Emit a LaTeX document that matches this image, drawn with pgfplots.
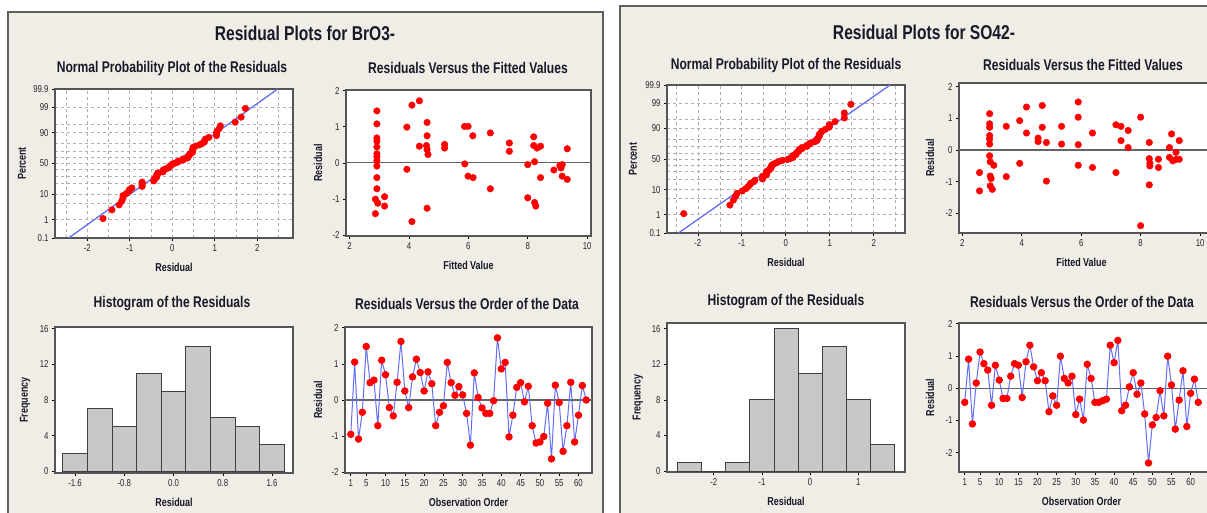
\documentclass[border=0pt]{standalone}
\usepackage{pgfplots}
\pgfplotsset{compat=1.18}
\usepackage{fontspec}
\setmainfont{Liberation Sans}[FakeStretch=0.78]
\definecolor{panelbg}{RGB}{240,236,230}
\definecolor{framegray}{RGB}{85,85,85}
\definecolor{panelborder}{RGB}{95,95,95}
\definecolor{bluel}{RGB}{100,110,245}
\definecolor{barfill}{RGB}{200,200,200}
\definecolor{zeroline}{RGB}{100,100,100}
\definecolor{gridc}{RGB}{175,175,175}
\definecolor{titc}{RGB}{25,25,40}
\newcommand\ticksz{\fontsize{10}{10}\selectfont}
\newcommand\labsz{\fontsize{11.5}{12}\selectfont\bfseries}
\newcommand\subsz{\fontsize{15.5}{17}\selectfont\bfseries}
\newcommand\titsz{\fontsize{20}{22}\selectfont\bfseries}
\pgfplotsset{
  mt/.style={
    scale only axis,
    axis background/.style={fill=white},
    axis line style={draw=framegray, line width=1.4pt},
    every tick/.style={draw=black, line width=0.6pt},
    major tick length=3pt,
    minor tick length=0pt,
    tick align=outside,
    xtick pos=bottom, ytick pos=left,
    ticklabel style={font=\ticksz, text=black!85},
    /pgf/number format/assume math mode=true,
    every axis x label/.style={at={(axis description cs:0.5,0)}, anchor=center, yshift=-29pt, font=\labsz, text=titc},
    every axis y label/.style={at={(axis description cs:-0.12,0.5)}, anchor=center, rotate=90, font=\labsz, text=titc},
  },
  ylab/.style={every axis y label/.append style={at={(axis description cs:#1,0.5)}}},
  dots/.style={only marks, mark=*, mark size=3.3pt, color=red, mark options={draw=red, fill=red}},
}
\begin{document}
\begin{tikzpicture}
\useasboundingbox (0,0) rectangle (1207pt,-513pt);
\fill[white] (0,0) rectangle (1207pt,-513pt);
\clip (0,0) rectangle (1207pt,-513pt);
\filldraw[fill=panelbg, draw=panelborder, line width=1.5pt] (8pt,-12pt) rectangle (603pt,-530pt);
\filldraw[fill=panelbg, draw=panelborder, line width=1.5pt] (620pt,-6pt) rectangle (1230pt,-530pt);

% titles
\node[font=\titsz, text=titc] at (305pt,-33pt) {Residual Plots for BrO3-};
\node[font=\titsz, text=titc] at (924pt,-32pt) {Residual Plots for SO42-};
\node[font=\subsz, text=titc] at (172pt,-68pt) {Normal Probability Plot of the Residuals};
\node[font=\subsz, text=titc] at (468pt,-68pt) {Residuals Versus the Fitted Values};
\node[font=\subsz, text=titc] at (172pt,-304pt) {Histogram of the Residuals};
\node[font=\subsz, text=titc] at (467pt,-304pt) {Residuals Versus the Order of the Data};
\node[font=\subsz, text=titc] at (786pt,-65pt) {Normal Probability Plot of the Residuals};
\node[font=\subsz, text=titc] at (1083pt,-65pt) {Residuals Versus the Fitted Values};
\node[font=\subsz, text=titc] at (786pt,-302pt) {Histogram of the Residuals};
\node[font=\subsz, text=titc] at (1082pt,-302pt) {Residuals Versus the Order of the Data};

%================ LEFT: NPP
\begin{axis}[mt, at={(55pt,-89pt)}, anchor=north west, width=238pt, height=149pt,
  xmin=-2.76, xmax=2.84, ymin=-3.09, ymax=3.09,
  xtick={-2,-1,0,1,2}, minor xtick={-2.5,-1.5,-0.5,0.5,1.5,2.5},
  ytick={-3.090,-2.326,-1.282,0,1.282,2.326,3.090}, yticklabels={0.1,1,10,50,90,99,99.9},
  minor ytick={-1.645,-0.8416,-0.5244,-0.2533,0.2533,0.5244,0.8416,1.645},
  grid=both, grid style={draw=gridc, dashed, line width=0.6pt},
  xlabel={Residual}, ylabel={Percent}, ylab=-0.139]
\addplot[color=bluel, line width=1.3pt] coordinates {(-2.44,-3.09) (2.48,3.09)};
\addplot[dots] coordinates {(-1.63,-2.283) (-1.42,-1.923) (-1.25,-1.714) (-1.19,-1.561) (-1.16,-1.437) (-1.16,-1.333) (-1.08,-1.241) (-1.02,-1.158) (-1.01,-1.083) (-0.95,-1.013) (-0.71,-0.948) (-0.71,-0.887) (-0.71,-0.829) (-0.71,-0.774) (-0.44,-0.721) (-0.42,-0.669) (-0.42,-0.620) (-0.37,-0.572) (-0.37,-0.525) (-0.37,-0.480) (-0.34,-0.435) (-0.34,-0.391) (-0.22,-0.348) (-0.21,-0.306) (-0.21,-0.264) (-0.16,-0.223) (-0.09,-0.182) (-0.07,-0.141) (-0.05,-0.101) (-0.02,-0.060) (0.00,-0.020) (0.07,0.020) (0.13,0.060) (0.14,0.101) (0.25,0.141) (0.25,0.182) (0.35,0.223) (0.37,0.264) (0.38,0.306) (0.40,0.348) (0.41,0.391) (0.45,0.435) (0.48,0.480) (0.48,0.525) (0.48,0.572) (0.49,0.620) (0.49,0.669) (0.55,0.721) (0.64,0.774) (0.70,0.829) (0.75,0.887) (0.76,0.948) (0.78,1.013) (0.86,1.083) (1.04,1.158) (1.04,1.241) (1.05,1.333) (1.10,1.437) (1.13,1.561) (1.48,1.714) (1.62,1.923) (1.72,2.283)};
\end{axis}

%================ LEFT: fitted
\begin{axis}[mt, at={(346pt,-90pt)}, anchor=north west, width=245pt, height=146pt,
  xmin=1.88, xmax=10.13, ymin=-2.03, ymax=2.02,
  xtick={2,4,6,8,10}, ytick={-2,-1,0,1,2},
  xlabel={Fitted Value}, ylabel={Residual}, ylab=-0.114]
\addplot[color=zeroline, line width=1.3pt] coordinates {(1.88,0) (10.13,0)};
\addplot[dots] coordinates {(2.92,1.44) (2.92,1.08) (2.92,0.69) (2.92,0.60) (2.92,0.44) (2.92,0.25) (2.92,0.17) (2.92,0.06) (2.92,-0.09) (2.92,-0.41) (2.92,-0.72) (2.87,-1.01) (2.95,-1.12) (2.87,-1.41) (3.18,-0.94) (3.18,-1.20) (3.93,0.99) (3.93,-0.18) (4.10,1.60) (4.10,-1.63) (4.35,1.72) (4.35,0.46) (4.61,1.12) (4.61,0.75) (4.59,0.48) (4.61,0.37) (4.64,0.23) (4.61,-1.26) (5.20,0.51) (5.20,0.41) (5.87,1.01) (5.99,1.01) (5.88,-0.03) (5.99,-0.37) (6.15,0.75) (6.16,-0.41) (6.74,0.83) (6.74,-0.72) (7.38,0.55) (7.38,0.32) (8.00,-0.05) (8.00,-0.97) (8.20,0.72) (8.20,0.48) (8.23,0.03) (8.23,-1.10) (8.27,-1.20) (8.31,0.41) (8.43,0.46) (8.43,-0.41) (8.88,-0.20) (9.08,-0.07) (9.12,-0.14) (9.16,-0.05) (9.16,-0.37) (9.33,0.39) (9.33,-0.46)};
\end{axis}

%================ LEFT: histogram
\begin{axis}[mt, at={(55pt,-327pt)}, anchor=north west, width=238pt, height=146pt,
  xmin=-1.925, xmax=1.94, ymin=-0.19, ymax=16.19,
  xtick={-1.6,-0.8,0,0.8,1.6}, xticklabels={-1.6,-0.8,0.0,0.8,1.6}, ytick={0,4,8,12,16},
  xlabel={Residual}, ylabel={Frequency}, ylab=-0.126]
\addplot[ybar, bar width=0.4, fill=barfill, draw=black!75, line width=0.9pt] coordinates {(-1.6,2) (-1.2,7) (-0.8,5) (-0.4,11) (0,9) (0.4,14) (0.8,6) (1.2,5) (1.6,3)};
\end{axis}

%================ LEFT: order
\begin{axis}[mt, at={(345pt,-327pt)}, anchor=north west, width=247pt, height=146pt,
  xmin=-0.5, xmax=63.5, ymin=-2.02, ymax=2.02,
  xtick={1,5,10,15,20,25,30,35,40,45,50,55,60}, ytick={-2,-1,0,1,2},
  xlabel={Observation Order}, ylabel={Residual}, ylab=-0.109]
\addplot[color=zeroline, line width=1.3pt] coordinates {(-0.5,0) (63.5,0)};
\addplot[color=bluel, line width=1.0pt, mark=*, mark size=3.2pt, mark options={draw=red, fill=red}] coordinates {(1,-0.95) (2,1.05) (3,-1.08) (4,-0.34) (5,1.48) (6,0.48) (7,0.55) (8,-0.71) (9,1.10) (10,0.70) (11,-0.21) (12,-0.44) (13,0.49) (14,1.62) (15,0.25) (16,-0.21) (17,0.64) (18,1.13) (19,0.76) (20,0.25) (21,0.78) (22,0.45) (23,-0.71) (24,-0.34) (25,-0.16) (26,1.04) (27,0.48) (28,0.13) (29,0.37) (30,0.14) (31,-0.37) (32,-1.25) (33,0.75) (34,0.07) (35,-0.22) (36,-0.37) (37,-0.37) (38,-0.02) (39,1.72) (40,0.86) (41,1.04) (42,-1.02) (43,-0.42) (44,0.35) (45,0.48) (46,-0.05) (47,0.38) (48,-0.71) (49,-1.19) (50,-1.16) (51,-1.01) (52,-0.09) (53,-1.63) (54,0.41) (55,-0.07) (56,-1.42) (57,-0.71) (58,0.49) (59,-1.16) (60,-0.42) (61,0.40) (62,0.00)};
\end{axis}

%================ RIGHT: NPP
\begin{axis}[mt, at={(667pt,-85pt)}, anchor=north west, width=238pt, height=148pt,
  xmin=-2.70, xmax=2.71, ymin=-3.09, ymax=3.09,
  xtick={-2,-1,0,1,2}, minor xtick={-2.5,-1.5,-0.5,0.5,1.5,2.5},
  ytick={-3.090,-2.326,-1.282,0,1.282,2.326,3.090}, yticklabels={0.1,1,10,50,90,99,99.9},
  minor ytick={-1.645,-0.8416,-0.5244,-0.2533,0.2533,0.5244,0.8416,1.645},
  grid=both, grid style={draw=gridc, dashed, line width=0.6pt},
  xlabel={Residual}, ylabel={Percent}, ylab=-0.143]
\addplot[color=bluel, line width=1.3pt] coordinates {(-2.44,-3.09) (2.37,3.09)};
\addplot[dots] coordinates {(-2.32,-2.283) (-1.27,-1.923) (-1.19,-1.714) (-1.14,-1.561) (-1.11,-1.437) (-0.99,-1.333) (-0.91,-1.241) (-0.86,-1.158) (-0.82,-1.083) (-0.80,-1.013) (-0.73,-0.948) (-0.70,-0.887) (-0.53,-0.829) (-0.53,-0.774) (-0.53,-0.721) (-0.44,-0.669) (-0.44,-0.620) (-0.44,-0.572) (-0.44,-0.525) (-0.39,-0.480) (-0.37,-0.435) (-0.34,-0.391) (-0.34,-0.348) (-0.32,-0.306) (-0.32,-0.264) (-0.29,-0.223) (-0.24,-0.182) (-0.19,-0.141) (-0.16,-0.101) (-0.08,-0.060) (0.04,-0.020) (0.10,0.020) (0.16,0.060) (0.16,0.101) (0.16,0.141) (0.23,0.182) (0.23,0.223) (0.25,0.264) (0.28,0.306) (0.30,0.348) (0.30,0.391) (0.37,0.435) (0.37,0.480) (0.48,0.525) (0.48,0.572) (0.54,0.620) (0.56,0.669) (0.66,0.721) (0.71,0.774) (0.71,0.829) (0.74,0.887) (0.76,0.948) (0.76,1.013) (0.79,1.083) (0.82,1.158) (0.90,1.241) (0.99,1.333) (0.99,1.437) (1.12,1.561) (1.33,1.714) (1.33,1.923) (1.48,2.283)};
\end{axis}

%================ RIGHT: fitted
\begin{axis}[mt, at={(959pt,-83pt)}, anchor=north west, width=250pt, height=150pt,
  xmin=1.89, xmax=10.30, ymin=-2.62, ymax=2.12,
  xtick={2,4,6,8,10}, ytick={-2,-1,0,1,2},
  xlabel={Fitted Value}, ylabel={Residual}, ylab=-0.116,
  every axis x label/.append style={at={(axis description cs:0.49,0)}}]
\addplot[color=zeroline, line width=1.3pt] coordinates {(1.89,0) (10.30,0)};
\addplot[dots] coordinates {(2.58,-0.71) (2.58,-1.29) (2.92,1.15) (2.92,0.83) (2.92,0.72) (2.92,0.46) (2.92,0.35) (2.92,0.19) (2.92,-0.18) (2.94,-0.37) (2.94,-0.82) (2.97,-0.90) (2.94,-1.13) (3.01,-1.24) (3.06,-0.48) (3.48,0.75) (3.48,-0.84) (3.93,0.93) (3.93,-0.42) (4.16,1.36) (4.16,0.54) (4.55,0.38) (4.55,0.27) (4.69,1.41) (4.69,0.72) (4.83,0.24) (4.83,-0.98) (5.34,0.75) (5.34,0.19) (5.90,1.52) (5.90,1.04) (5.90,0.17) (5.90,-0.48) (6.38,0.54) (6.38,-0.55) (7.17,0.80) (7.17,-0.71) (7.34,0.75) (7.34,0.30) (7.58,0.62) (7.58,0.08) (8.00,1.04) (8.00,-2.39) (8.29,0.24) (8.29,-0.27) (8.31,-0.41) (8.31,-0.50) (8.29,-1.10) (8.60,-0.29) (8.60,-0.55) (8.97,0.08) (8.97,-0.23) (9.04,0.51) (9.08,-0.34) (9.19,-0.07) (9.20,-0.29) (9.30,0.30) (9.30,-0.29)};
\end{axis}

%================ RIGHT: histogram
\begin{axis}[mt, at={(667pt,-323pt)}, anchor=north west, width=238pt, height=149pt,
  xmin=-2.97, xmax=1.97, ymin=-0.1, ymax=16.64,
  xtick={-2,-1,0,1}, ytick={0,4,8,12,16},
  xlabel={Residual}, ylabel={Frequency}, ylab=-0.122]
\addplot[ybar, bar width=0.5, fill=barfill, draw=black!75, line width=0.9pt] coordinates {(-2.5,1) (-2.0,0) (-1.5,1) (-1.0,8) (-0.5,16) (0,11) (0.5,14) (1.0,8) (1.5,3)};
\end{axis}

%================ RIGHT: order
\begin{axis}[mt, at={(959pt,-323pt)}, anchor=north west, width=250pt, height=149pt,
  xmin=-0.5, xmax=64.8, ymin=-2.6, ymax=2.02,
  xtick={1,5,10,15,20,25,30,35,40,45,50,55,60}, ytick={-2,-1,0,1,2},
  xlabel={Observation Order}, ylabel={Residual}, ylab=-0.116,
  every axis x label/.append style={at={(axis description cs:0.49,0)}}]
\addplot[color=zeroline, line width=1.3pt] coordinates {(-0.5,0) (64.8,0)};
\addplot[color=bluel, line width=1.0pt, mark=*, mark size=3.2pt, mark options={draw=red, fill=red}] coordinates {(1,-0.44) (2,0.90) (3,-1.11) (4,0.16) (5,1.12) (6,0.76) (7,0.56) (8,-0.53) (9,0.71) (10,0.25) (11,-0.32) (12,-0.32) (13,0.37) (14,0.76) (15,0.71) (16,-0.29) (17,0.82) (18,1.33) (19,0.66) (20,0.23) (21,0.48) (22,0.23) (23,-0.73) (24,-0.24) (25,-0.53) (26,0.99) (27,0.30) (28,0.16) (29,0.37) (30,-0.82) (31,-0.34) (32,-0.99) (33,0.74) (34,0.30) (35,-0.44) (36,-0.44) (37,-0.39) (38,-0.34) (39,1.33) (40,0.79) (41,1.48) (42,-0.70) (43,-0.53) (44,0.04) (45,0.48) (46,-0.19) (47,0.16) (48,-0.80) (49,-2.32) (50,-1.14) (51,-0.91) (52,-0.08) (53,-0.86) (54,0.99) (55,0.10) (56,-1.27) (57,-0.37) (58,0.54) (59,-1.19) (60,-0.16) (61,0.28) (62,-0.44)};
\end{axis}
\end{tikzpicture}
\end{document}
